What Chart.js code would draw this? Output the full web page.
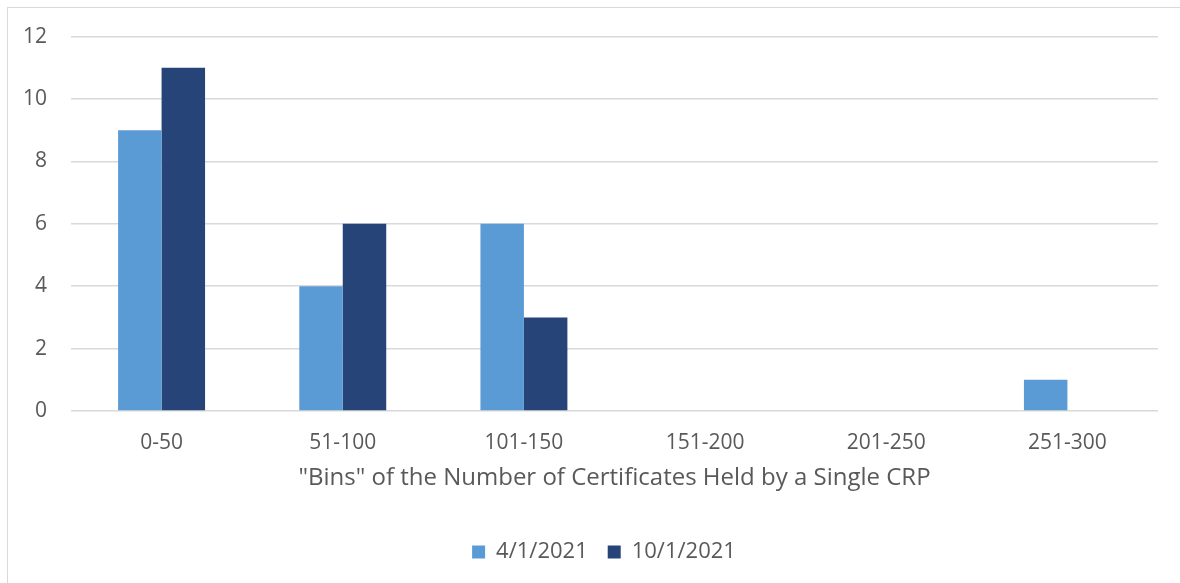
<!DOCTYPE html>
<html>
<head>
<meta charset="utf-8">
<script src="https://cdn.jsdelivr.net/npm/chart.js@4/dist/chart.umd.min.js"></script>
<style>
  body { margin: 0; background: #fff; }
  #wrap { position: relative; width: 1180px; height: 583px; overflow: hidden; }
  #frame { position: absolute; left: 7px; top: 7px; width: 1200px; height: 600px; border: 1px solid #d9d9d9; }
  #certChart { position: absolute; left: 0; top: 0; }
</style>
</head>
<body>
<div id="wrap">
  <div id="frame"></div>
  <canvas id="certChart" width="1180" height="583"></canvas>
</div>
<script>
const bins = ['0-50', '51-100', '101-150', '151-200', '201-250', '251-300'];
const april2021 = [9, 4, 6, 0, 0, 1];
const october2021 = [11, 6, 3, 0, 0, 0];
const yTicks = [0, 2, 4, 6, 8, 10, 12];

const ctx = document.getElementById('certChart');
const textColor = '#595959';
const fontFamily = '"Open Sans", "Noto Sans", sans-serif';

// centre the legend under the plot area instead of the whole canvas
const legendUnderPlot = {
  id: 'legendUnderPlot',
  afterLayout(chart) {
    const lg = chart.legend;
    if (lg) {
      lg.left = chart.chartArea.left - 43;
      lg.right = chart.chartArea.right + 22;
    }
  },
};

const chart = new Chart(ctx, {
  type: 'bar',
  data: {
    labels: bins,
    datasets: [
      {
        label: '4/1/2021',
        backgroundColor: '#5b9bd5',
        data: april2021,
      },
      {
        label: '10/1/2021',
        backgroundColor: '#264478',
        data: october2021,
      },
    ],
  },
  options: {
    responsive: false,
    animation: false,
    layout: { padding: { left: 0, right: 22, top: 36, bottom: 10 } },
    datasets: {
      bar: { categoryPercentage: 0.48, barPercentage: 1.0 },
    },
    plugins: {
      tooltip: { enabled: false },
      legend: {
        position: 'bottom',
        labels: {
          color: textColor,
          font: { family: fontFamily, size: 22 },
          boxWidth: 13,
          boxHeight: 13,
          padding: 20,
        },
      },
    },
    scales: {
      x: {
        grid: { display: false },
        border: { display: false },
        ticks: {
          color: textColor,
          font: { family: fontFamily, size: 21 },
          padding: 11,
        },
        title: {
          display: true,
          text: '"Bins" of the Number of Certificates Held by a Single CRP',
          color: textColor,
          font: { family: fontFamily, size: 24 },
          padding: { top: 0, bottom: 28 },
        },
        afterFit: scale => { scale.height = 110; },
      },
      y: {
        min: 0,
        max: 12,
        afterBuildTicks: scale => { scale.ticks = yTicks.map(v => ({ value: v })); },
        grid: { color: '#d9d9d9', lineWidth: 1.5, drawTicks: false },
        border: { display: false },
        ticks: {
          color: textColor,
          font: { family: fontFamily, size: 21 },
          padding: 24,
        },
        afterFit: scale => { scale.width = 71; },
      },
    },
  },
  plugins: [legendUnderPlot],
});
</script>
</body>
</html>
